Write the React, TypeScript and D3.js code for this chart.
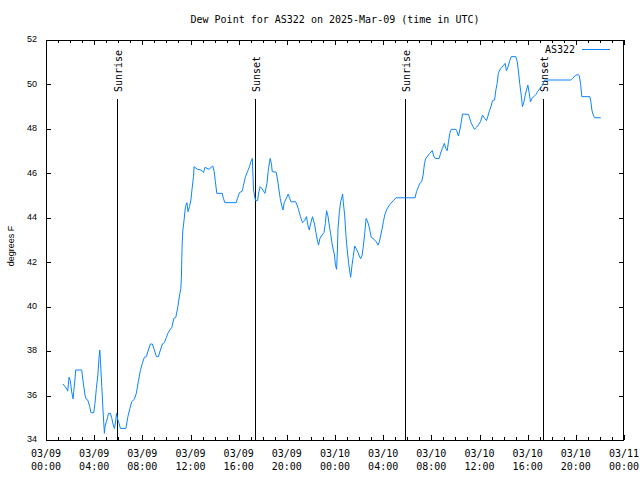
import React from "react";
import * as d3 from "d3";

const title = "Dew Point for AS322 on 2025-Mar-09 (time in UTC)";
const yAxisLabel = "degrees F";
const seriesName = "AS322";

const xStart = "2025-03-09 00:00";
const xEnd = "2025-03-11 00:00";
const yTicks = [34, 36, 38, 40, 42, 44, 46, 48, 50, 52];

const day1Date = "2025-03-09";
const day1Times = [
  "01:25","01:35","01:45","01:48","01:55","02:01","02:08","02:15","02:18","02:25","02:28","02:58",
  "03:05","03:15","03:21","03:28","03:38","03:44","03:58","04:04","04:11","04:18","04:24","04:28",
  "04:31","04:38","04:44","04:51","04:54","05:01","05:08","05:11","05:21","05:28","05:34","05:41",
  "05:48","05:51","05:58","06:04","06:11","06:38","06:48","06:58","07:07","07:20","07:30","07:40",
  "07:50","08:00","08:10","08:20","08:30","08:40","08:50","09:00","09:10","09:20","09:30","09:40",
  "09:50","10:00","10:07","10:17","10:27","10:37","10:47","10:57","11:07","11:12","11:15","11:18",
  "11:22","11:28","11:35","11:42","11:48","11:55","12:02","12:08","12:15","12:18","12:35","12:52",
  "13:05","13:12","13:32","13:51","13:58","14:04","14:11","14:38","14:44","14:51","15:48","15:54",
  "16:04","16:18","16:24","16:34","16:44","16:54","17:01","17:08","17:14","17:24","17:34","17:41",
  "17:47","17:57","18:11","18:21","18:27","18:34","18:37","18:44","18:47","19:07","19:14","19:21",
  "19:27","19:34","19:41","19:47","19:57","20:07","20:14","20:21","20:44","20:51","20:58","21:08",
  "21:18","21:28","21:38","21:45","21:52","21:58","22:08","22:18","22:25","22:32","22:38","22:45",
  "22:55","23:05","23:12","23:18","23:25","23:32","23:38","23:45","23:52","23:58"
];
const day1Values = [
  36.52,36.40,36.28,36.20,36.83,36.67,36.16,35.85,36.17,36.79,37.15,37.15,
  36.62,35.98,35.83,35.80,35.50,35.23,35.23,35.65,36.32,36.88,37.67,38.05,
  37.63,36.40,35.35,34.30,34.60,34.82,35.05,35.20,35.20,34.97,34.72,34.52,
  34.90,35.20,34.90,34.75,34.52,34.52,35.05,35.42,35.72,35.83,36.10,36.62,
  37.12,37.45,37.72,37.75,38.05,38.32,38.32,38.05,37.75,37.75,38.05,38.32,
  38.38,38.62,38.80,38.95,39.07,39.47,39.52,40.00,40.60,40.82,41.42,42.70,
  43.45,43.90,44.50,44.68,44.27,44.50,44.80,45.32,45.85,46.30,46.18,46.15,
  46.03,46.27,46.18,46.33,46.08,45.63,45.10,45.10,44.87,44.68,44.68,44.87,
  45.13,45.20,45.47,45.85,46.08,46.30,46.53,46.67,45.25,44.77,44.77,45.18,
  45.40,45.30,45.10,45.55,46.08,46.53,46.67,46.38,46.08,46.05,45.70,45.25,
  44.87,44.57,44.35,44.68,44.87,45.07,44.87,44.72,44.72,44.57,44.38,44.05,
  43.78,43.87,44.05,43.67,43.45,43.72,44.05,43.72,43.33,43.00,42.77,43.07,
  43.22,43.33,43.75,44.32,44.08,43.63,43.30,42.85,42.55,42.28
];

const day2Date = "2025-03-10";
const day2Times = [
  "00:02","00:08","00:12","00:15","00:22","00:28","00:35","00:38","00:41","00:48","00:55","01:01",
  "01:08","01:15","01:18","01:25","01:31","01:38","01:45","01:55","02:01","02:08","02:15","02:21",
  "02:28","02:35","02:41","02:48","02:55","03:01","03:15","03:25","03:35","03:41","03:48","03:55",
  "04:01","04:08","04:18","04:28","04:38","04:51","05:04","06:39","06:46","06:56","07:02","07:12",
  "07:19","07:26","07:32","07:42","07:52","08:05","08:12","08:19","08:39","08:45","08:55","09:05",
  "09:12","09:19","09:25","09:32","09:39","10:02","10:08","10:15","10:22","10:28","10:35","11:05",
  "11:11","11:18","11:28","11:35","11:45","11:55","12:05","12:15","12:25","12:35","12:41","12:48",
  "12:58","13:05","13:15","13:21","13:28","13:34","13:41","13:51","14:01","14:08","14:14","14:21",
  "14:31","14:38","15:01","15:08","15:14","15:21","15:28","15:34","15:41","15:48","15:54","16:01",
  "16:08","16:14","16:21","16:31","16:41","16:51","17:01","17:14","17:24","19:34","19:44","19:57",
  "20:10","20:17","20:24","20:30","21:10","21:15","21:20","21:27","21:34","22:04"
];
const day2Values = [
  41.88,41.68,42.55,43.52,44.27,44.72,44.95,45.07,44.72,44.13,43.15,42.55,
  41.95,41.50,41.32,41.88,42.25,42.73,42.62,42.43,42.28,42.16,42.32,42.70,
  43.30,43.97,43.87,43.67,43.37,43.12,43.03,42.92,42.77,42.92,43.22,43.52,
  43.82,44.13,44.38,44.53,44.65,44.77,44.90,44.90,45.17,45.40,45.55,45.62,
  45.92,46.45,46.67,46.78,46.90,47.02,46.78,46.67,46.67,46.87,47.12,47.35,
  47.12,47.02,47.38,47.80,47.98,47.98,47.88,47.68,47.95,48.25,48.67,48.65,
  48.48,48.28,48.10,47.98,48.07,48.18,48.33,48.62,48.48,48.37,48.55,48.77,
  49.03,49.27,49.30,49.72,50.05,50.50,50.65,50.77,50.87,50.95,50.62,50.77,
  51.07,51.25,51.25,51.03,50.60,50.00,49.52,49.00,49.20,49.52,49.75,49.97,
  49.60,49.22,49.37,49.45,49.55,49.70,49.82,49.97,50.20,50.20,50.27,50.40,
  50.45,50.40,50.00,49.45,49.45,49.22,48.85,48.62,48.50,48.50
];

const eventTimes = ["2025-03-09 05:56", "2025-03-09 17:19", "2025-03-10 05:47", "2025-03-10 17:16"];
const eventLabels = ["Sunrise", "Sunset", "Sunrise", "Sunset"];

const parse = d3.utcParse("%Y-%m-%d %H:%M");
const MONO = "'DejaVu Sans Mono', monospace";
const SANS = "'Liberation Sans', Arial, sans-serif";

export default function App() {
  const W = 640, H = 480;
  const left = 46, right = 624, top = 40, bottom = 440;
  const x = d3.scaleUtc().domain([parse(xStart)!, parse(xEnd)!]).range([left, right]);
  const y = d3.scaleLinear().domain([34, 52]).range([bottom, top]);

  const data = [
    ...day1Times.map((t, i) => ({ t: parse(`${day1Date} ${t}`)!, v: day1Values[i] })),
    ...day2Times.map((t, i) => ({ t: parse(`${day2Date} ${t}`)!, v: day2Values[i] })),
  ];
  const line = d3.line<{ t: Date; v: number }>().x(d => x(d.t)).y(d => y(d.v));

  const majorTicks = x.ticks(d3.utcHour.every(4)!);
  const minorTicks = x.ticks(d3.utcHour.every(1)!);
  const fmtDate = d3.utcFormat("%m/%d");
  const fmtTime = d3.utcFormat("%H:%M");
  const px = (v: number) => Math.round(v) + 0.5;

  return (
    <svg width={W} height={H} style={{ position: "absolute", left: 0, top: 0, background: "#fff" }}>
      <rect x={0} y={0} width={W} height={H} fill="#fff" />
      <text x={335} y={20} textAnchor="middle" dominantBaseline="middle" fontFamily={MONO} fontSize={10}>{title}</text>

      {/* minor x ticks */}
      {minorTicks.map((t, i) => (
        <g key={"mn" + i} stroke="#000" strokeWidth={1}>
          <line x1={px(x(t))} x2={px(x(t))} y1={bottom} y2={bottom - 3} />
          <line x1={px(x(t))} x2={px(x(t))} y1={top} y2={top + 3} />
        </g>
      ))}
      {majorTicks.map((t, i) => (
        <g key={"mj" + i}>
          <line x1={px(x(t))} x2={px(x(t))} y1={bottom} y2={bottom - 5} stroke="#000" />
          <line x1={px(x(t))} x2={px(x(t))} y1={top} y2={top + 5} stroke="#000" />
          <text x={x(t)} y={454} textAnchor="middle" dominantBaseline="middle" fontFamily={MONO} fontSize={10}>{fmtDate(t)}</text>
          <text x={x(t)} y={467} textAnchor="middle" dominantBaseline="middle" fontFamily={MONO} fontSize={10}>{fmtTime(t)}</text>
        </g>
      ))}
      {yTicks.map((v, i) => (
        <g key={"y" + i}>
          <line x1={left} x2={left + 5} y1={px(y(v))} y2={px(y(v))} stroke="#000" />
          <line x1={right} x2={right - 5} y1={px(y(v))} y2={px(y(v))} stroke="#000" />
          <text x={37} y={y(v)} textAnchor="end" dominantBaseline="middle" fontFamily={SANS} fontSize={9}>{v}</text>
        </g>
      ))}
      <text transform={`translate(12,246) rotate(-90)`} textAnchor="middle" dominantBaseline="middle" fontFamily={SANS} fontSize={9}>{yAxisLabel}</text>

      {/* events */}
      {eventTimes.map((t, i) => {
        const ex = px(x(parse(t)!));
        return (
          <g key={"ev" + i}>
            <line x1={ex} x2={ex} y1={99} y2={bottom} stroke="#000" strokeWidth={1} />
            <text transform={`translate(${ex + 4.5},92) rotate(-90)`} textAnchor="start" fontFamily={MONO} fontSize={10}>{eventLabels[i]}</text>
          </g>
        );
      })}

      <path d={line(data)!} fill="none" stroke="#0a84ff" strokeWidth={1} />

      {/* legend */}
      <text x={575} y={50} textAnchor="end" dominantBaseline="middle" fontFamily={MONO} fontSize={10}>{seriesName}</text>
      <line x1={582} x2={610} y1={49.5} y2={49.5} stroke="#0a84ff" strokeWidth={1} />

      <rect x={left + 0.5} y={top + 0.5} width={right - left - 1} height={bottom - top} fill="none" stroke="#000" strokeWidth={1} />
    </svg>
  );
}
